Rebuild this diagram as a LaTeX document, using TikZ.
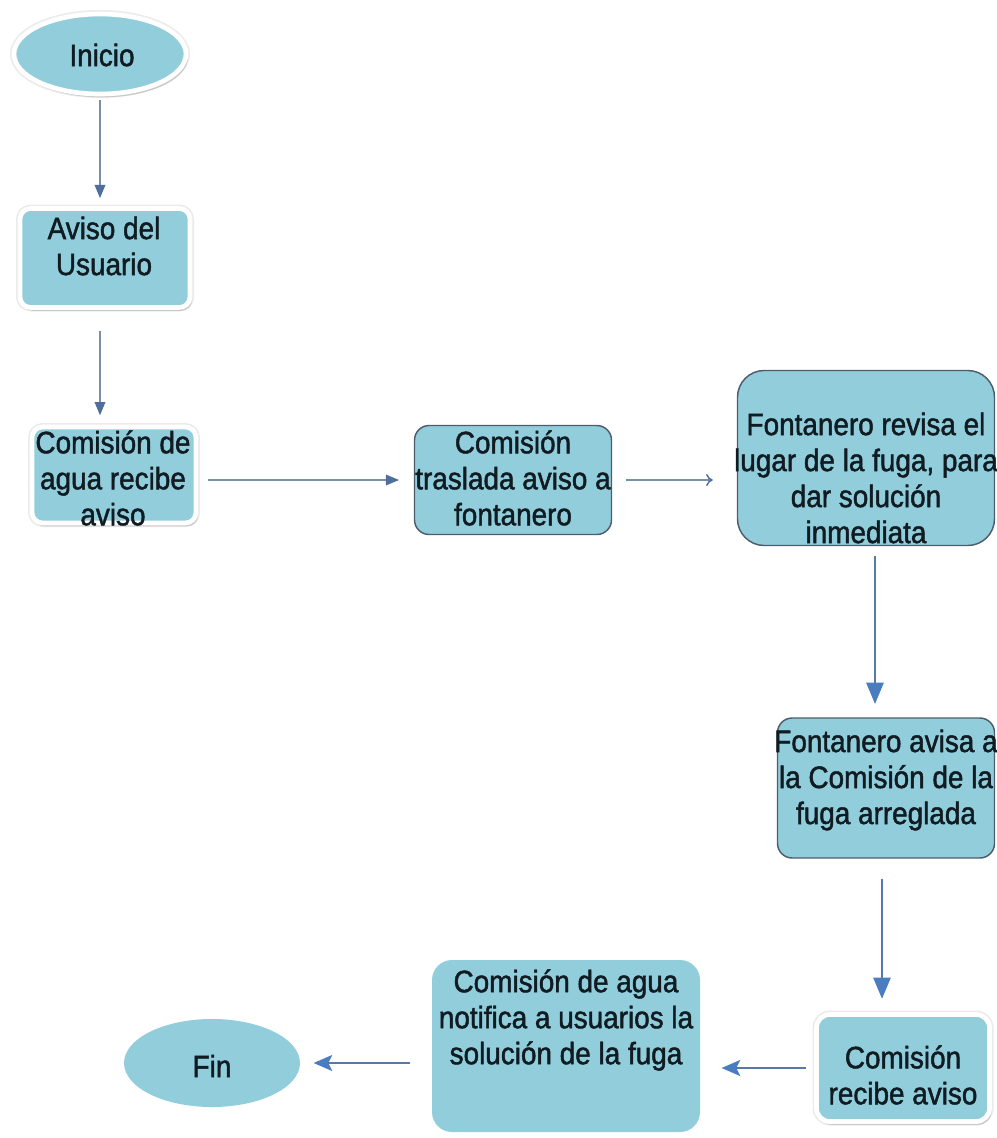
\documentclass[tikz,border=0pt]{standalone}
\usepackage{fontspec}
\setmainfont{Liberation Sans}[FakeStretch=0.9,FakeBold=1.5]
\usetikzlibrary{shapes.geometric,arrows.meta,shadows}

\definecolor{aqua}{HTML}{92CDDC}
\definecolor{ink}{HTML}{101C22}
\definecolor{edge}{HTML}{4E5D6C}
\definecolor{linkA}{HTML}{7A8FAA}
\definecolor{tipA}{HTML}{4F6E9C}
\definecolor{linkB}{HTML}{5878A6}
\definecolor{tipB}{HTML}{4A7DC0}

\begin{document}
\begin{tikzpicture}[x=0.75pt,y=-0.75pt,
  startend/.style={ellipse, fill=aqua, inner sep=0pt},
  proc/.style={rectangle, fill=aqua, rounded corners=8pt, inner sep=0pt},
  rim/.style={draw=white, line width=3.5pt,
    preaction={draw=black!8, line width=6pt},
    drop shadow={shadow xshift=1.5pt, shadow yshift=-2.5pt, opacity=0.25, fill=black!60}},
  outlined/.style={draw=edge, line width=1.1pt},
  lbl/.style={align=center, text=ink, inner sep=0pt,
    font=\fontsize{23.25}{27}\selectfont},
  flowA/.style={draw=linkA, line width=1.1pt,
    -{Triangle[length=10pt,width=8pt,color=tipA]}},
  flowThin/.style={draw=linkA, line width=1.1pt,
    -{To[length=5pt,width=9pt,color=tipA]}},
  flowB/.style={draw=linkB, line width=1.5pt,
    -{Triangle[length=16pt,width=13pt,color=tipB]}},
  flowC/.style={draw=linkB, line width=1.5pt,
    -{Stealth[length=14pt,width=12pt,inset=3pt,color=tipB]}}
]
\useasboundingbox (0,0) rectangle (996,1138);

% terminals and process boxes
\node[startend, rim, minimum width=172*0.75pt, minimum height=80*0.75pt] (inicio) at (100,54) {};
\node[lbl] (inicioT) at (102,55) {Inicio};

\node[proc, rim, minimum width=170*0.75pt, minimum height=99*0.75pt] (aviso) at (105,258) {};
\node[lbl] (avisoT) at (104,246) {Aviso del\\Usuario};

\node[proc, rim, minimum width=164*0.75pt, minimum height=96*0.75pt] (recibeA) at (114,475) {};
\node[lbl] (recibeAT) at (113,478) {Comisión de\\agua recibe\\aviso};

\node[proc, outlined, rounded corners=11pt, minimum width=197*0.75pt, minimum height=109*0.75pt] (traslada) at (513,480) {};
\node[lbl] (trasladaT) at (513,478) {Comisión\\traslada aviso a\\fontanero};

\node[proc, outlined, rounded corners=20pt, minimum width=257*0.75pt, minimum height=175*0.75pt] (revisa) at (866,458) {};
\node[lbl] (revisaT) at (866,478) {Fontanero revisa el\\lugar de la fuga, para\\dar solución\\inmediata};

\node[proc, outlined, rounded corners=11pt, minimum width=217*0.75pt, minimum height=140*0.75pt] (avisa) at (886,788) {};
\node[lbl] (avisaT) at (886,780) {Fontanero avisa a\\la Comisión de la\\fuga arreglada};

\node[proc, rim, rounded corners=10pt, minimum width=173*0.75pt, minimum height=107*0.75pt] (recibeB) at (903,1068) {};
\node[lbl] (recibeBT) at (903,1075) {Comisión\\recibe aviso};

\node[proc, rounded corners=15pt, minimum width=268*0.75pt, minimum height=172*0.75pt] (notifica) at (566,1046) {};
\node[lbl] (notificaT) at (566,1020) {Comisión de agua\\notifica a usuarios la\\solución de la fuga};

\node[startend, minimum width=176*0.75pt, minimum height=88*0.75pt] (fin) at (212,1063) {};
\node[lbl] (finT) at (212,1066) {Fin};

% connectors
\draw[flowA, shorten <=3pt, shorten >=6pt]
  (inicio.south) -- (inicio.south |- aviso.north);
\draw[flowA, shorten <=16pt, shorten >=7pt]
  (inicio.south |- aviso.south) -- (inicio.south |- recibeA.north);
\draw[flowA, shorten <=7pt, shorten >=11pt]
  (recibeA.east |- traslada.west) -- (traslada.west);
\draw[flowThin, shorten <=10pt, shorten >=18pt]
  (traslada.east) -- (revisa.west |- traslada.east);
\draw[flowB, shorten <=7pt, shorten >=10pt]
  ([xshift=6.75pt]revisa.south) -- ([xshift=6.75pt]revisa.south |- avisa.north);
\draw[flowB, shorten <=15pt, shorten >=10pt]
  ([xshift=-3pt]avisa.south) -- ([xshift=-3pt]avisa.south |- recibeB.north);
\draw[flowC, shorten <=6pt, shorten >=16pt]
  (recibeB.west) -- (recibeB.west -| notifica.east);
\draw[flowC, shorten <=16pt, shorten >=10pt]
  (notifica.west |- fin.east) -- (fin.east);
\end{tikzpicture}
\end{document}
